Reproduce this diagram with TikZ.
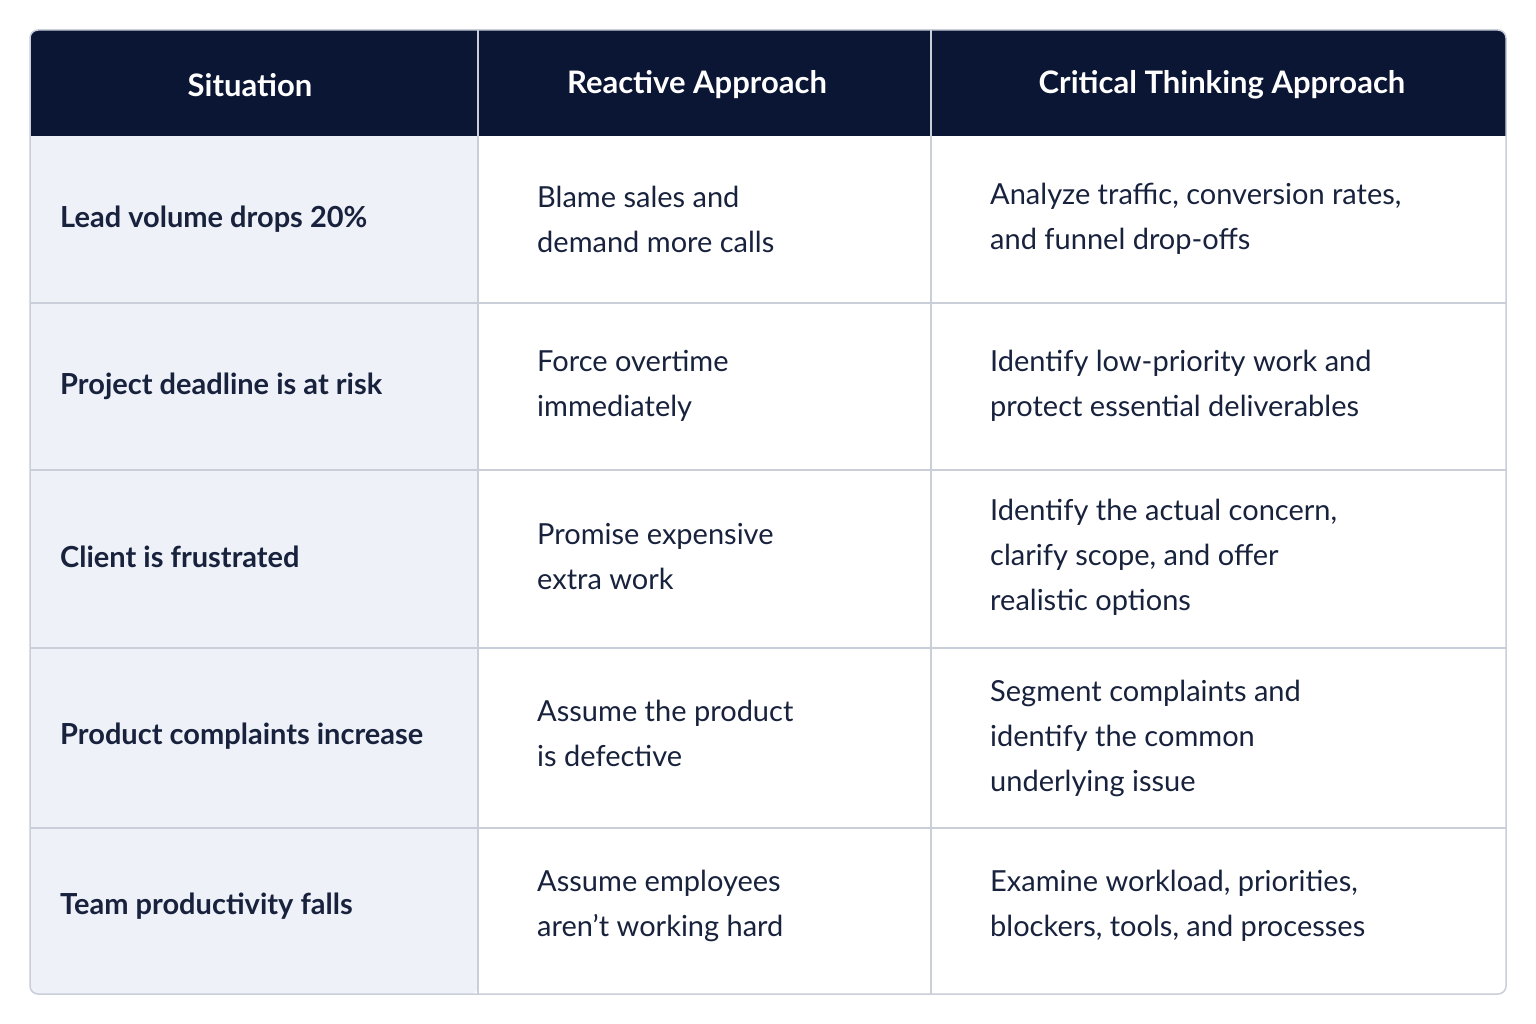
\documentclass[tikz,border=0pt]{standalone}
\usepackage{fontspec}
\setmainfont{Lato}
\usetikzlibrary{positioning,calc}
\definecolor{navy}{HTML}{0B1534}
\definecolor{ink}{HTML}{18223D}
\definecolor{pale}{HTML}{EEF1F8}
\definecolor{rule}{HTML}{C9CED8}

\begin{document}
\begin{tikzpicture}[x=1pt,y=-1pt]
    % Define styles
    \tikzstyle{head}=[text=white,font=\fontsize{31}{40}\selectfont\bfseries,anchor=center]
    \tikzstyle{situ}=[text=ink,font=\fontsize{29}{45}\selectfont\bfseries,anchor=west,align=left,inner sep=0]
    \tikzstyle{cell}=[text=ink,font=\fontsize{29}{45}\selectfont,anchor=west,align=left,inner sep=0]

    \useasboundingbox (0,0) rectangle (1536,1024);
    \fill[white] (0,0) rectangle (1536,1024);

    % Frame and fills
    \fill[pale,rounded corners=8] (30,30) rectangle (478,994);
    \fill[white] (478,136) rectangle (1506,994);
    \fill[navy,rounded corners=8] (30,30) rectangle (1506,136);
    \fill[navy] (30,100) rectangle (1506,136);

    % Grid lines
    \foreach \y in {303,470,648,828} {
        \draw[rule,line width=1.5] (30,\y) -- (1506,\y);
    }
    \draw[rule,line width=1.5] (478,30) -- (478,994);
    \draw[rule,line width=1.5] (931,30) -- (931,994);
    \draw[rule,line width=1.5,rounded corners=8] (30,30) rectangle (1506,994);

    % Header
    \node[head] (h1) at (250,85) {Situation};
    \node[head] (h2) at (697,85) {Reactive Approach};
    \node[head] (h3) at (1222,85) {Critical Thinking Approach};

    % Rows
    \node[situ] (s1) at (60,219) {Lead volume drops 20\%};
    \node[cell] (r1) at (537,219) {Blame sales and\\demand more calls};
    \node[cell] (c1) at (990,219) {Analyze traffic, conversion rates,\\and funnel drop-offs};

    \node[situ] (s2) at (60,386) {Project deadline is at risk};
    \node[cell] (r2) at (537,386) {Force overtime\\immediately};
    \node[cell] (c2) at (990,386) {Identify low-priority work and\\protect essential deliverables};

    \node[situ] (s3) at (60,557) {Client is frustrated};
    \node[cell] (r3) at (537,557) {Promise expensive\\extra work};
    \node[cell] (c3) at (990,557) {Identify the actual concern,\\clarify scope, and offer\\realistic options};

    \node[situ] (s4) at (60,736) {Product complaints increase};
    \node[cell] (r4) at (537,733) {Assume the product\\is defective};
    \node[cell] (c4) at (990,738) {Segment complaints and\\identify the common\\underlying issue};

    \node[situ] (s5) at (60,906) {Team productivity falls};
    \node[cell] (r5) at (537,906) {Assume employees\\aren’t working hard};
    \node[cell] (c5) at (990,906) {Examine workload, priorities,\\blockers, tools, and processes};
\end{tikzpicture}
\end{document}
